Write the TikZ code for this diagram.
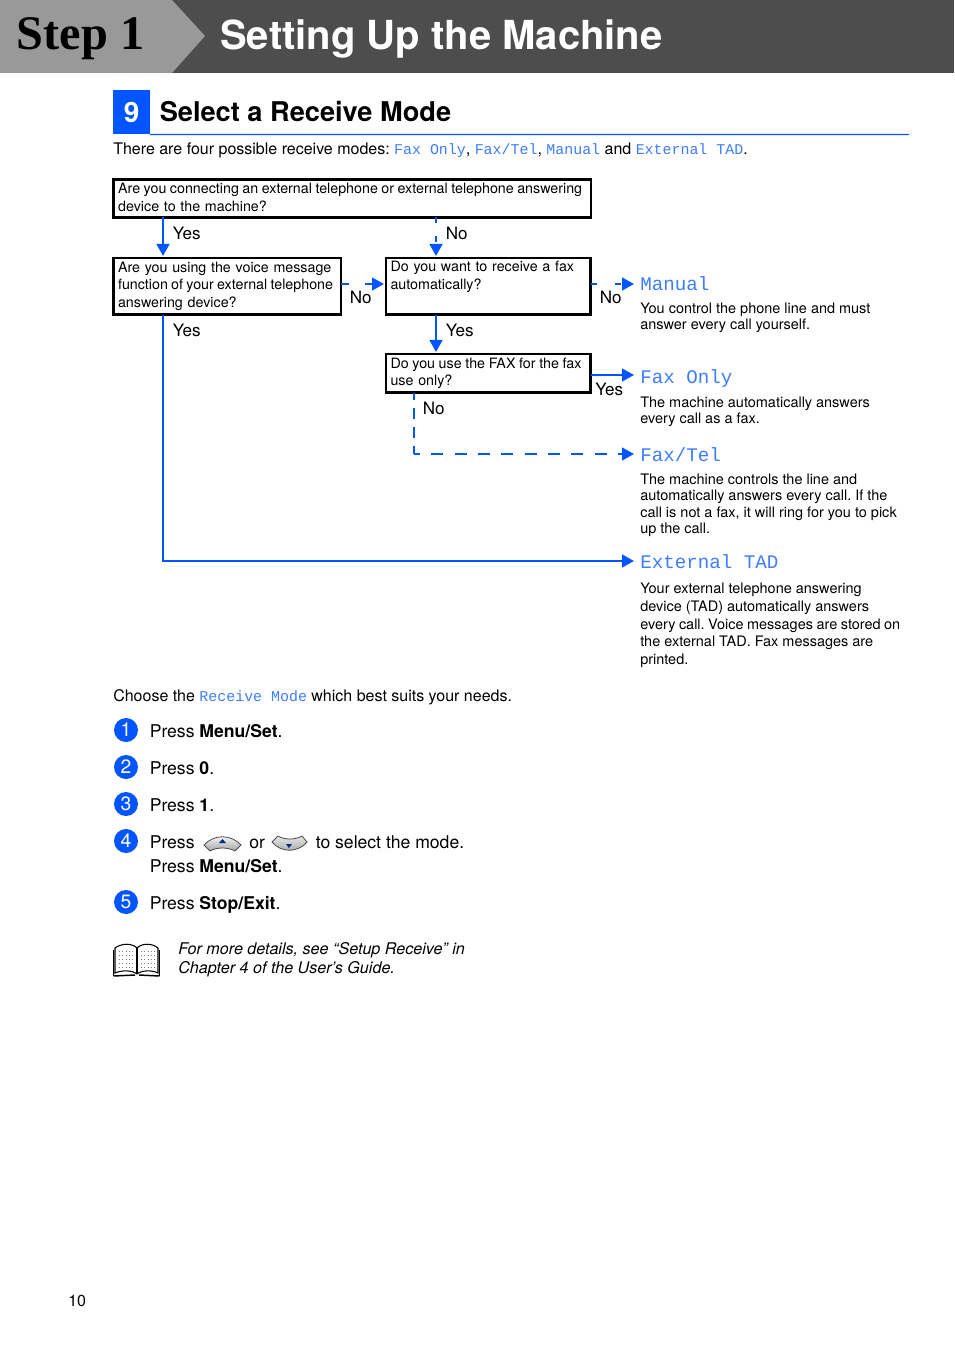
\documentclass[tikz,border=0pt]{standalone}
\usepackage{fontspec}
\setmainfont{TeX Gyre Heros}
\setmonofont{Liberation Mono}
\newfontfamily\stepfont{Liberation Serif}
\usetikzlibrary{arrows.meta}
\definecolor{bleu}{HTML}{0055FF}
\definecolor{bleuclair}{HTML}{3D7DFF}
\definecolor{gris}{HTML}{999999}
\definecolor{sombre}{HTML}{4D4D4D}
\newcommand{\mode}[1]{{\ttfamily\fontsize{11.2}{14}\selectfont\color{bleuclair}#1}}
\newcommand{\taille}[2]{\fontsize{#1}{#2}\selectfont}
\newcommand{\ligne}[2]{\leavevmode\hbox to #1{\spaceskip=0pt plus 1fil\relax #2}}
\frenchspacing
\begin{document}
\begin{tikzpicture}[x=0.75pt,y=-0.75pt]
		\tikzstyle{question}=[draw,line width=2pt,outer sep=0pt,anchor=north west,inner sep=0pt,align=left,font=\taille{10.7}{13.2}]
		\tikzstyle{texte}=[anchor=base west,inner sep=0pt,font=\taille{12}{14}]
		\tikzstyle{etape}=[anchor=base west,inner sep=0pt,font=\taille{13.2}{16}]
		\tikzstyle{choix}=[anchor=base west,inner sep=0pt,font=\taille{12.8}{14}]
		\tikzstyle{modetitre}=[anchor=west,inner sep=0pt,text=bleuclair,text height=12.5pt,text depth=2pt,font=\ttfamily\taille{14.4}{16}]
		\tikzstyle{detail}=[anchor=north west,inner sep=0pt,align=left,font=\taille{10.85}{12.1}]
		\tikzstyle{pastille}=[circle,fill=bleu,text=white,minimum size=18pt,inner sep=0pt,font=\taille{14.5}{16}]
		\tikzstyle{fleche}=[draw=bleu,line width=1.75pt,shorten >=1.5pt,-{Triangle[length=9pt,width=9.5pt]}]
		\tikzstyle{versmode}=[fleche,shorten >=4.5pt]
		\useasboundingbox (0,0) rectangle (954,1351);
		% bandeau
		\fill[sombre] (0,0) rectangle (954,73);
		\fill[gris] (0,0) -- (172,0) -- (205,36) -- (172,73) -- (0,73) -- cycle;
		\node[anchor=base west,inner sep=0pt,font=\stepfont\bfseries\taille{36.2}{40}] (etape) at (16.5,49.5) {Step 1};
		\node[anchor=base west,inner sep=0pt,text=white,font=\bfseries\taille{30}{32}] (titre) at (220,50) {Setting Up the Machine};
		% section
		\node[fill=bleu,text=white,minimum width=27.5pt,minimum height=33pt,inner sep=0pt,anchor=north west,font=\bfseries\taille{21}{24}] (neuf) at (113,90) {9};
		\node[anchor=base west,inner sep=0pt,font=\bfseries\taille{20.4}{24}] (section) at (159.5,122) {Select a Receive Mode};
		\draw[bleu,line width=1pt] (neuf.south east) -- (909,134.5);
		\node[texte] (intro) at (113,155) {There are four possible receive modes: \mode{Fax Only}, \mode{Fax/Tel}, \mode{Manual} and \mode{External TAD}.};
		% questions
		\node[question,minimum width=358pt,minimum height=28.5pt,text width=351pt] (q1) at (113.5,179.5) {\ligne{348pt}{Are you connecting an external telephone or external telephone answering}\\[.6pt]device to the machine?\\[-11pt]\mbox{}};
		\node[question,minimum width=170.5pt,minimum height=42.5pt,text width=163.7pt] (q2) at (113.5,258) {Are you using the voice message\\\ligne{161.25pt}{function of your external telephone}\\answering device?};
		\node[question,minimum width=153.5pt,minimum height=42.5pt,text width=146.7pt] (q3) at (386,258) {Do you want to receive a fax\\automatically?\\[3pt]\mbox{}};
		\node[question,minimum width=153.5pt,minimum height=29pt,text width=146.7pt] (q4) at (386,354) {\ligne{143.25pt}{Do you use the FAX for the fax}\\use only?};
		% modes
		\node[modetitre] (manuel) at (640,284) {Manual};
		\node[modetitre,text height=14.5pt] (faxseul) at (640,375) {Fax Only};
		\node[modetitre] (faxtel) at (640,454) {Fax/Tel};
		\node[modetitre,text height=13.5pt] (externe) at (640,561) {External TAD};
		\node[detail] at (640,303) {You control the phone line and must\\answer every call yourself.};
		\node[detail] at (640,396.5) {The machine automatically answers\\every call as a fax.};
		\node[detail] at (640,474) {The machine controls the line and\\automatically answers every call. If the\\call is not a fax, it will ring for you to pick\\up the call.};
		\node[detail,font=\taille{10.85}{13.25}] at (640,583) {Your external telephone answering\\device (TAD) automatically answers\\\ligne{195pt}{every call. Voice messages are stored on}\\the external TAD. Fax messages are\\printed.};
		% fleches
		\coordinate (colA) at (163,300);
		\coordinate (colB) at (436,300);
		\coordinate (colC) at (414,300);
		\coordinate (coin) at (colC |- faxtel.west);
		\draw[fleche] (q1.south -| colA) -- (q2.north -| colA);
		\draw[fleche,dash pattern=on 4.5pt off 9.75pt] (q1.south -| colB) -- (q3.north -| colB);
		\draw[fleche,dash pattern=on 6pt off 12pt] (q2.east |- manuel.west) -- (q3.west |- manuel.west);
		\draw[versmode,dash pattern=on 5pt off 13pt] (q3.east |- manuel.west) -- (manuel.west);
		\draw[fleche] (q3.south -| colB) -- (q4.north -| colB);
		\draw[versmode] (q4.east |- faxseul.west) -- (faxseul.west);
		\draw[draw=bleu,line width=1.75pt,dash pattern=on 8.25pt off 6pt,dash phase=3pt] (q4.south -| colC) -- (coin);
		\draw[versmode,dash pattern=on 9pt off 8.5pt,dash phase=4.5pt] (coin) -- (faxtel.west);
		\draw[versmode] (q2.south -| colA) |- (externe.west);
		% etiquettes
		\node[choix] (oui1) at (172.5,240) {Yes};
		\node[choix] (non1) at (445.5,240) {No};
		\node[choix] (oui2) at (172.5,336.5) {Yes};
		\node[choix] (non2) at (349.5,304) {No};
		\node[choix] (non3) at (599.5,304) {No};
		\node[choix] (oui3) at (445.5,336.5) {Yes};
		\node[choix] (oui4) at (595,395) {Yes};
		\node[choix] (non4) at (422.5,414.5) {No};
		% etapes
		\node[texte] (choisir) at (113,701) {Choose the \mode{Receive Mode} which best suits your needs.};
		\node[pastille] (p1) at (126,730) {1};
		\node[pastille] (p2) at (126,767) {2};
		\node[pastille] (p3) at (126,804) {3};
		\node[pastille] (p4) at (126,841) {4};
		\node[pastille] (p5) at (126,902) {5};
		\node[etape] at (149.5,737) {Press \textbf{Menu/Set}.};
		\node[etape] at (149.5,774) {Press \textbf{0}.};
		\node[etape] at (149.5,811) {Press \textbf{1}.};
		\node[etape] at (149.5,848) {Press};
		\node[etape] at (249,848) {or};
		\node[etape] at (315.5,848) {to select the mode.};
		\node[etape] at (149.5,872) {Press \textbf{Menu/Set}.};
		\node[etape] at (149.5,909) {Press \textbf{Stop/Exit}.};
		% touches
		\draw[black!70,line width=.6pt,top color=white,bottom color=gray!70] (204,845) .. controls (214,834) and (231,834) .. (241,845) -- (235,851) .. controls (228,847) and (217,847) .. (210,851) -- cycle;
		\fill[bleu!50!black] (219,843) -- (222.5,839) -- (226,843) -- cycle;
		\draw[black!70,line width=.6pt,top color=gray!20,bottom color=gray!70] (272,842) -- (278,836) .. controls (285,840) and (295,840) .. (302,836) -- (307,842) .. controls (298,853) and (281,853) .. (272,842) -- cycle;
		\fill[bleu!50!black] (286,844) -- (292,844) -- (289,848) -- cycle;
		% livre
		\draw[line width=.8pt,fill=white] (115,948) .. controls (122,943) and (132,943) .. (137,948) .. controls (142,943) and (152,943) .. (158,948) -- (158,973) .. controls (152,970) and (142,970) .. (137,974) .. controls (132,970) and (122,970) .. (115,973) -- cycle;
		\draw[line width=.8pt] (137,948) -- (137,974);
		\draw[line width=.8pt] (113.5,976) -- (113.5,950) (159.5,976) -- (159.5,950);
		\draw[line width=1.1pt] (113.5,976) -- (135,975) (139,975) -- (159.5,976);
		\draw[gray,line width=.5pt,dotted] (119,951) -- (133,951) (119,955) -- (133,955) (119,959) -- (133,959) (119,963) -- (133,963) (119,967) -- (133,967) (141,951) -- (155,951) (141,955) -- (155,955) (141,959) -- (155,959) (141,963) -- (155,963) (141,967) -- (155,967);
		\node[anchor=north west,inner sep=0pt,align=left,font=\itshape\taille{12.1}{14.2}] (renvoi) at (178,942) {For more details, see “Setup Receive” in\\Chapter 4 of the User's Guide.};
		\node[anchor=base west,inner sep=0pt,font=\taille{12}{14}] (page) at (68,1306) {10};
	\end{tikzpicture}
\end{document}
